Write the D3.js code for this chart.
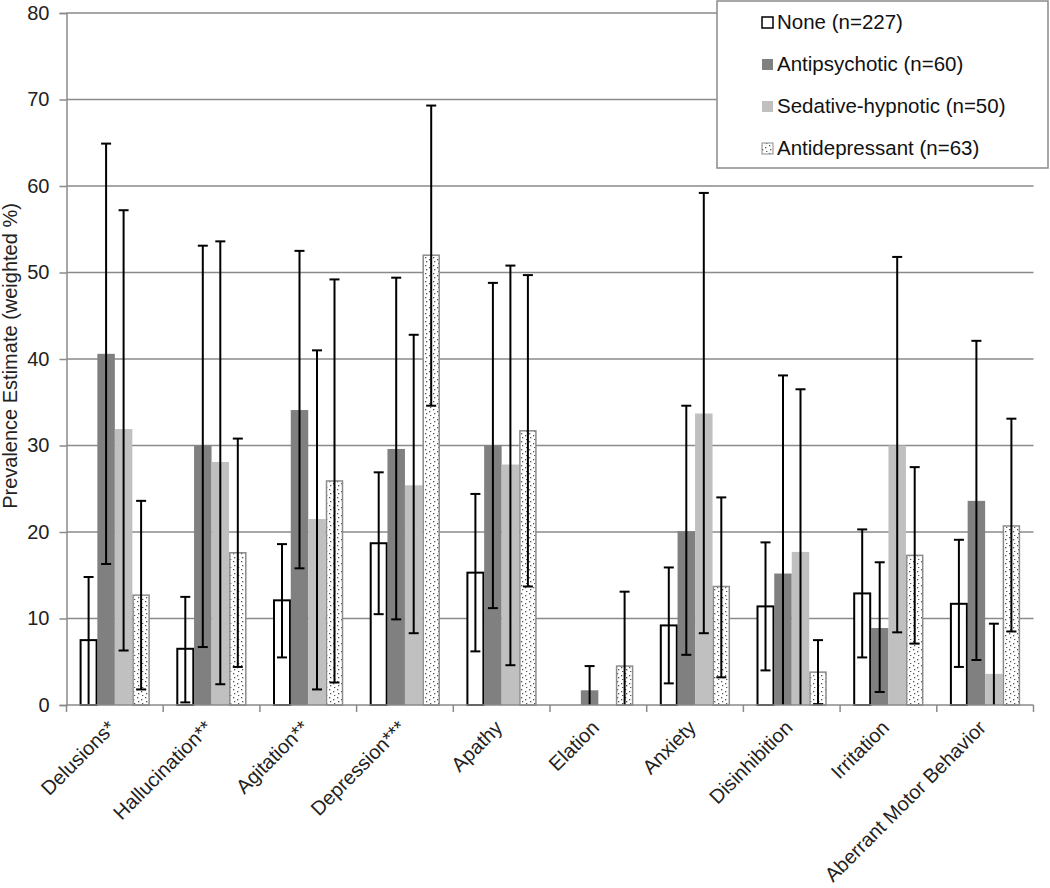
<!DOCTYPE html>
<html><head><meta charset="utf-8">
<script src="https://cdn.jsdelivr.net/npm/d3@7"></script>
<style>body{margin:0;background:#fff;} text{font-family:"Liberation Sans",Arial,sans-serif;}</style>
</head><body>
<script>
const categories = ["Delusions*","Hallucination**","Agitation**","Depression***","Apathy","Elation","Anxiety","Disinhibition","Irritation","Aberrant Motor Behavior"];
const seriesNames = ["None (n=227)","Antipsychotic (n=60)","Sedative-hypnotic (n=50)","Antidepressant (n=63)"];
const noneVals = [7.5,6.5,12.1,18.7,15.3,0,9.2,11.4,12.9,11.7];
const noneLo   = [0,0.3,5.5,10.5,6.2,0,2.5,4.0,5.5,4.4];
const noneHi   = [14.8,12.5,18.6,26.9,24.4,0,15.9,18.8,20.3,19.1];
const antipsyVals = [40.6,30.0,34.1,29.6,30.0,1.7,20.1,15.2,8.9,23.6];
const antipsyLo   = [16.3,6.7,15.8,9.9,11.2,0,5.8,0,1.5,5.2];
const antipsyHi   = [64.9,53.1,52.5,49.4,48.8,4.5,34.6,38.1,16.5,42.1];
const sedVals = [31.9,28.1,21.5,25.4,27.8,0,33.7,17.7,30.0,3.6];
const sedLo   = [6.3,2.4,1.8,8.3,4.6,0,8.3,0,8.4,0];
const sedHi   = [57.2,53.6,41.0,42.8,50.8,0,59.2,36.5,51.8,9.4];
const antidepVals = [12.7,17.6,25.9,52.0,31.7,4.5,13.7,3.8,17.3,20.7];
const antidepLo   = [1.8,4.4,2.6,34.6,13.7,0,3.2,0.1,7.1,8.5];
const antidepHi   = [23.6,30.8,49.2,69.3,49.7,13.1,24.0,7.5,27.5,33.1];
const yTicks = [0,10,20,30,40,50,60,70,80];

const series = [
  {name:seriesNames[0], vals:noneVals, lo:noneLo, hi:noneHi, fill:"#fff", stroke:"#000"},
  {name:seriesNames[1], vals:antipsyVals, lo:antipsyLo, hi:antipsyHi, fill:"#808080", stroke:"none"},
  {name:seriesNames[2], vals:sedVals, lo:sedLo, hi:sedHi, fill:"#c0c0c0", stroke:"none"},
  {name:seriesNames[3], vals:antidepVals, lo:antidepLo, hi:antidepHi, fill:"url(#dots)", stroke:"#8c8c8c"}
];

const W=1050,H=888;
const svg=d3.select("body").append("svg").attr("width",W).attr("height",H);
const defs=svg.append("defs");
const pat=defs.append("pattern").attr("id","dots").attr("patternUnits","userSpaceOnUse").attr("width",8).attr("height",8);
pat.append("rect").attr("width",8).attr("height",8).attr("fill","#fff");
[[1,1],[5,3],[2,5],[6,7]].forEach(p=>pat.append("rect").attr("x",p[0]).attr("y",p[1]).attr("width",1.3).attr("height",1.3).attr("fill","#555"));

const x0=66.5,x1=1033.5,yTop=13,yBot=705;
const y=d3.scaleLinear().domain([0,80]).range([yBot,yTop]);
const xb=d3.scaleBand().domain(categories).range([x0,x1]).paddingInner(0).paddingOuter(0);
const groupW=70;
const xs=d3.scaleBand().domain(d3.range(4)).range([0,groupW]).padding(0);
const gOff=(xb.bandwidth()-groupW)/2;

// gridlines
svg.append("g").selectAll("line").data(yTicks.filter(d=>d>0)).join("line")
  .attr("x1",x0).attr("x2",x1).attr("y1",d=>y(d)).attr("y2",d=>y(d))
  .attr("stroke","#8a8a8a").attr("stroke-width",1.5);

// y axis
const ya=svg.append("g").attr("transform",`translate(${x0},0)`).call(d3.axisLeft(y).tickValues(yTicks).tickSize(7).tickPadding(10));
ya.select(".domain").attr("stroke","#8a8a8a").attr("stroke-width",1.5);
ya.selectAll(".tick line").attr("stroke","#8a8a8a").attr("stroke-width",1.5);
ya.selectAll("text").attr("font-size",20).attr("fill","#222").style("font-family","Liberation Sans, Arial, sans-serif");

// bars
series.forEach((s,si)=>{
  const g=svg.append("g");
  g.selectAll("rect").data(categories).join("rect")
    .attr("x",(c)=>xb(c)+gOff+xs(si)+(s.stroke!=="none"?0.75:0))
    .attr("width",xs.bandwidth()-(s.stroke!=="none"?1.5:0))
    .attr("y",(c,i)=>y(s.vals[i]))
    .attr("height",(c,i)=>y(0)-y(s.vals[i]))
    .attr("fill",s.fill).attr("stroke",(c,i)=>s.vals[i]>0?s.stroke:"none").attr("stroke-width",s.stroke==="#000"?2:1.5);
});
// error bars
series.forEach((s,si)=>{
  const g=svg.append("g");
  categories.forEach((c,i)=>{
    if(s.hi[i]<=0) return;
    const cx=xb(c)+gOff+xs(si)+xs.bandwidth()/2;
    g.append("line").attr("x1",cx).attr("x2",cx).attr("y1",y(s.lo[i])).attr("y2",y(s.hi[i])).attr("stroke","#000").attr("stroke-width",2);
    g.append("line").attr("x1",cx-5).attr("x2",cx+5).attr("y1",y(s.hi[i])).attr("y2",y(s.hi[i])).attr("stroke","#000").attr("stroke-width",2);
    if(s.lo[i]>0) g.append("line").attr("x1",cx-5).attr("x2",cx+5).attr("y1",y(s.lo[i])).attr("y2",y(s.lo[i])).attr("stroke","#000").attr("stroke-width",2);
  });
});

// x axis
const xa=svg.append("g").attr("transform",`translate(0,${yBot})`);
xa.append("line").attr("x1",x0).attr("x2",x1).attr("stroke","#8a8a8a").attr("stroke-width",1.5);
const bounds=categories.map(c=>xb(c)).concat([x1]);
xa.selectAll(".tk").data(bounds).join("line").attr("class","tk")
  .attr("x1",d=>d).attr("x2",d=>d).attr("y1",0).attr("y2",7).attr("stroke","#8a8a8a").attr("stroke-width",1.5);
xa.selectAll("text").data(categories).join("text")
  .attr("transform",c=>`translate(${xb(c)+xb.bandwidth()/2+2},${24}) rotate(-45)`)
  .attr("text-anchor","end").attr("font-size",20).attr("fill","#222").text(c=>c);

// y title
svg.append("text").attr("transform",`translate(17,${356}) rotate(-90)`).attr("text-anchor","middle")
  .attr("font-size",20).attr("fill","#222").text("Prevalence Estimate (weighted %)");

// legend
const lg=svg.append("g");
lg.append("rect").attr("x",717).attr("y",1).attr("width",331).attr("height",167).attr("fill","#fff").attr("stroke","#8a8a8a").attr("stroke-width",1.5);
series.forEach((s,i)=>{
  const cy=22+i*42;
  lg.append("rect").attr("x",762).attr("y",cy-5).attr("width",11).attr("height",11)
    .attr("fill",s.fill).attr("stroke",i===0?"#000":(i===3?"#8c8c8c":"none")).attr("stroke-width",i===0?1.5:1);
  lg.append("text").attr("x",777).attr("y",cy+7.2).attr("font-size",20.5).attr("fill","#111").text(s.name);
});
</script>
</body></html>
